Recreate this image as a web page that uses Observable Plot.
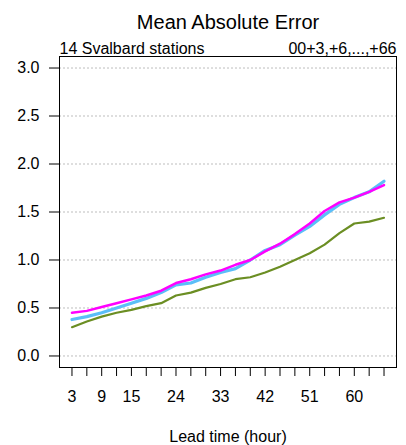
<!DOCTYPE html>
<html>
<head>
<meta charset="utf-8">
<script src="https://cdn.jsdelivr.net/npm/d3@7"></script>
<script src="https://cdn.jsdelivr.net/npm/@observablehq/plot@0.6"></script>
<style>
  html, body { margin: 0; padding: 0; background: #fff; }
  svg { font-family: "Liberation Sans", Arial, Helvetica, sans-serif; }
</style>
</head>
<body>
<div id="chart"></div>
<script>
const hours = [3, 6, 9, 12, 15, 18, 21, 24, 27, 30, 33, 36, 39, 42, 45, 48, 51, 54, 57, 60, 63, 66];
const cyanSeries = [0.38, 0.41, 0.45, 0.50, 0.55, 0.60, 0.66, 0.74, 0.76, 0.82, 0.87, 0.91, 1.00, 1.10, 1.16, 1.26, 1.35, 1.47, 1.58, 1.65, 1.71, 1.82];
const magentaSeries = [0.45, 0.47, 0.51, 0.55, 0.59, 0.63, 0.68, 0.76, 0.80, 0.85, 0.89, 0.95, 1.00, 1.09, 1.17, 1.27, 1.38, 1.51, 1.60, 1.65, 1.71, 1.78];
const greenSeries = [0.30, 0.36, 0.41, 0.45, 0.48, 0.52, 0.55, 0.63, 0.66, 0.71, 0.75, 0.80, 0.82, 0.87, 0.93, 1.00, 1.07, 1.16, 1.28, 1.38, 1.40, 1.44];
const xTickLabels = [3, 9, 15, 24, 33, 42, 51, 60];
const yTicks = [0, 0.5, 1, 1.5, 2, 2.5, 3];
const titleText = "Mean Absolute Error";
const subLeft = "14 Svalbard stations";
const subRight = "00+3,+6,...,+66";
const xLabel = "Lead time (hour)";

const toRows = (vals) => hours.map((h, i) => ({h, v: vals[i]}));
const labelSet = new Set(xTickLabels);

const chart = Plot.plot({
  width: 406,
  height: 445,
  marginLeft: 59,
  marginRight: 10,
  marginTop: 56,
  marginBottom: 78,
  style: {fontSize: "16px", fontFamily: "'Liberation Sans', Arial, Helvetica, sans-serif", color: "#000", background: "#fff"},
  x: {domain: [0.48, 68.52]},
  y: {domain: [-0.12, 3.12]},
  marks: [
    Plot.gridY(yTicks, {stroke: "#bdbdbd", strokeOpacity: 1, strokeDasharray: "2,2"}),
    Plot.line(toRows(greenSeries), {x: "h", y: "v", stroke: "#6B8E23", strokeWidth: 2.2}),
    Plot.line(toRows(cyanSeries), {x: "h", y: "v", stroke: "#5BBEF8", strokeWidth: 3.2}),
    Plot.line(toRows(magentaSeries), {x: "h", y: "v", stroke: "#FF00FF", strokeWidth: 2.5}),
    Plot.frame({stroke: "#000", strokeWidth: 1}),
    Plot.axisY(yTicks, {tickSize: 10, tickPadding: 10, tickFormat: d => d.toFixed(1), fontSize: 16, label: null}),
    Plot.axisX(hours, {tickSize: 8, tickPadding: 14, dy: 1, tickFormat: d => labelSet.has(d) ? String(d) : "", fontSize: 16, label: null}),
    Plot.text([titleText], {frameAnchor: "top", dy: -34.4, fontSize: 20, lineAnchor: "middle", text: d => d}),
    Plot.text([subLeft], {frameAnchor: "top-left", dy: -8, textAnchor: "start", lineAnchor: "middle", fontSize: 16, text: d => d}),
    Plot.text([subRight], {frameAnchor: "top-right", dy: -8, textAnchor: "end", lineAnchor: "middle", fontSize: 16, text: d => d}),
    Plot.text([xLabel], {frameAnchor: "bottom", dy: 69, lineAnchor: "middle", fontSize: 16, text: d => d})
  ]
});
document.getElementById("chart").appendChild(chart);
</script>
</body>
</html>
